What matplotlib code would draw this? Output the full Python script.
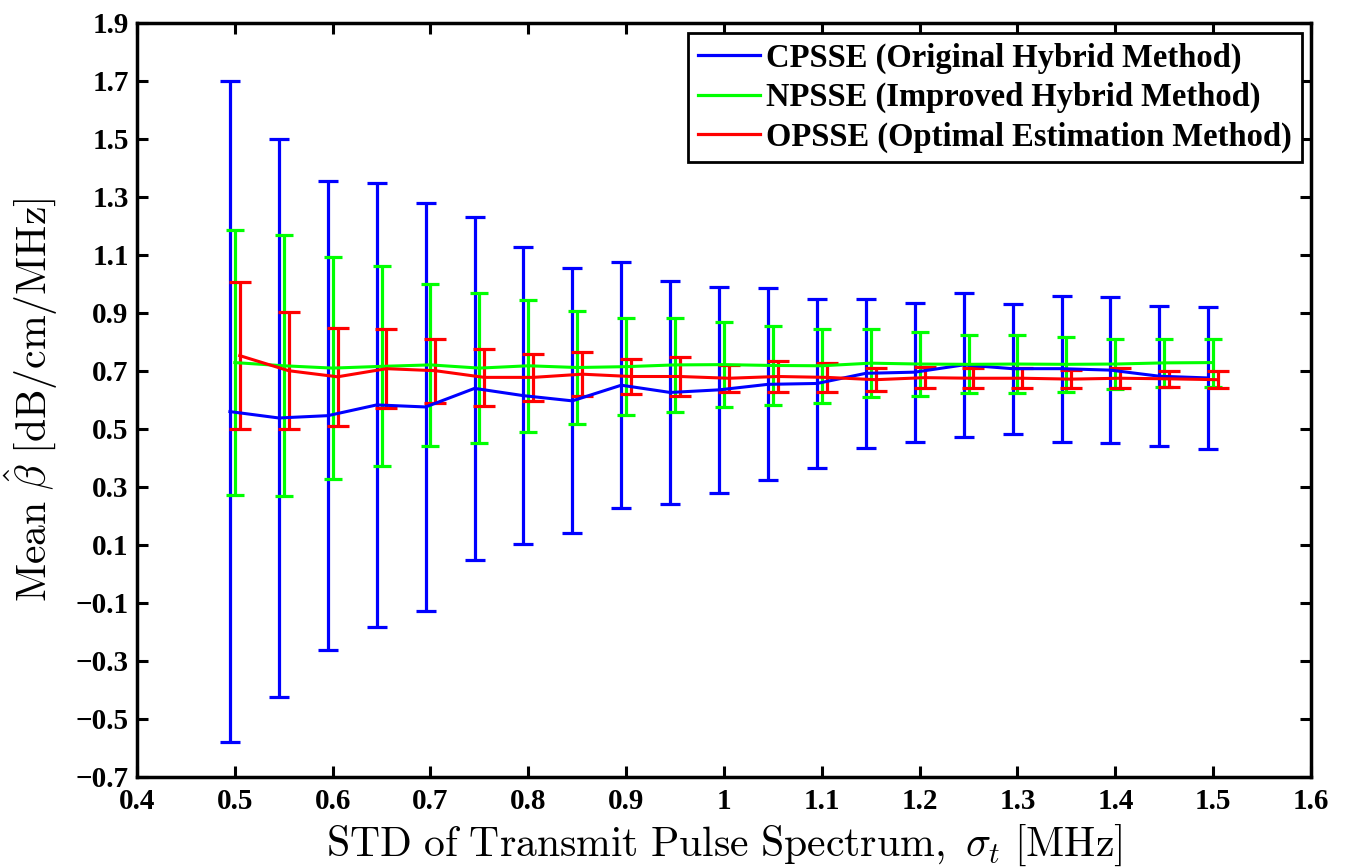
import numpy as np
import matplotlib
matplotlib.use("Agg")
import matplotlib.pyplot as plt
from matplotlib.lines import Line2D

# Transmit pulse spectrum widths (MHz)
sigma_t = [0.50, 0.55, 0.60, 0.65, 0.70, 0.75, 0.80, 0.85, 0.90, 0.95, 1.00,
           1.05, 1.10, 1.15, 1.20, 1.25, 1.30, 1.35, 1.40, 1.45, 1.50]

# CPSSE (original hybrid method): mean and standard deviation
cpsse_mean = [0.560, 0.538, 0.546, 0.583, 0.576, 0.640, 0.615, 0.597, 0.651, 0.626, 0.635,
              0.654, 0.657, 0.692, 0.696, 0.721, 0.708, 0.708, 0.703, 0.682, 0.676]
cpsse_std = [1.140, 0.962, 0.809, 0.766, 0.704, 0.592, 0.513, 0.457, 0.425, 0.385, 0.356,
             0.331, 0.291, 0.256, 0.240, 0.247, 0.224, 0.252, 0.251, 0.241, 0.246]

# NPSSE (improved hybrid method)
npsse_mean = [0.729, 0.718, 0.710, 0.716, 0.721, 0.710, 0.718, 0.712, 0.715, 0.721, 0.722,
              0.719, 0.718, 0.727, 0.724, 0.723, 0.724, 0.723, 0.724, 0.728, 0.729]
npsse_std = [0.456, 0.450, 0.382, 0.345, 0.280, 0.258, 0.228, 0.196, 0.167, 0.162, 0.146,
             0.137, 0.127, 0.118, 0.110, 0.100, 0.099, 0.094, 0.087, 0.084, 0.083]

# OPSSE (optimal estimation method)
opsse_mean = [0.753, 0.701, 0.680, 0.708, 0.701, 0.678, 0.678, 0.689, 0.681, 0.681, 0.675,
              0.681, 0.678, 0.670, 0.677, 0.675, 0.675, 0.672, 0.675, 0.673, 0.670]
opsse_std = [0.253, 0.201, 0.169, 0.137, 0.110, 0.098, 0.080, 0.075, 0.061, 0.067, 0.046,
             0.052, 0.049, 0.039, 0.037, 0.035, 0.035, 0.032, 0.035, 0.027, 0.030]

labels = ["CPSSE (Original Hybrid Method)",
          "NPSSE (Improved Hybrid Method)",
          "OPSSE (Optimal Estimation Method)"]

x_ticks = [0.4, 0.5, 0.6, 0.7, 0.8, 0.9, 1, 1.1, 1.2, 1.3, 1.4, 1.5, 1.6]
y_ticks = [-0.7, -0.5, -0.3, -0.1, 0.1, 0.3, 0.5, 0.7, 0.9, 1.1, 1.3, 1.5, 1.7, 1.9]

plt.rcParams["mathtext.fontset"] = "cm"
plt.rcParams["axes.unicode_minus"] = True

fig = plt.figure(figsize=(13.52, 8.67), dpi=100)
ax = fig.add_axes([0.10133, 0.10381, 0.86834, 0.86967])

x = np.array(sigma_t)
series = [
    (x - 0.005, cpsse_mean, cpsse_std, "#0000ff", 7.0),
    (x, npsse_mean, npsse_std, "#00ff00", 6.5),
    (x + 0.005, opsse_mean, opsse_std, "#ff0000", 8.0),
]
for xs, m, s, c, cap in series:
    ax.errorbar(xs, m, yerr=s, color=c, lw=2.2, elinewidth=2.3,
                capsize=cap, capthick=2.3)

ax.set_xlim(0.4, 1.6)
ax.set_ylim(-0.7, 1.9)
ax.set_xticks(x_ticks)
ax.set_xticklabels(["%g" % v for v in x_ticks])
ax.set_yticks(y_ticks)
ax.set_yticklabels([("%.1f" % v).replace("-", "\u2212") for v in y_ticks])

for lab in ax.get_xticklabels() + ax.get_yticklabels():
    lab.set_fontfamily("Liberation Serif")
    lab.set_fontweight("bold")
    lab.set_fontsize(21)

ax.tick_params(direction="in", length=8, width=2.2, top=True, right=True)
ax.tick_params(axis="x", pad=8)
ax.tick_params(axis="y", pad=6)
for sp in ax.spines.values():
    sp.set_linewidth(2.5)

ax.set_xlabel(r"$\mathrm{STD\ of\ Transmit\ Pulse\ Spectrum,}\ \sigma_t\ [\mathrm{MHz}]$",
              fontsize=30)
ax.set_ylabel(r"$\mathrm{Mean}\ \hat{\beta}\ [\mathrm{dB/cm/MHz}]$", fontsize=30)
ax.xaxis.set_label_coords(0.5, -0.060)
ax.yaxis.set_label_coords(-0.066, 0.5)

handles = [Line2D([], [], color=c, lw=2.3) for _, _, _, c, _ in series]
leg = ax.legend(handles, labels, loc="upper right", bbox_to_anchor=(0.992, 0.987),
                prop=dict(family="Liberation Serif", weight="bold", size=23.5),
                frameon=True, fancybox=False, framealpha=1.0, edgecolor="black",
                borderpad=0.3, labelspacing=0.25, handlelength=1.9,
                handletextpad=0.2, borderaxespad=0.0)
leg.get_frame().set_linewidth(2.0)

fig.savefig("out.png", dpi=100, facecolor="white")
